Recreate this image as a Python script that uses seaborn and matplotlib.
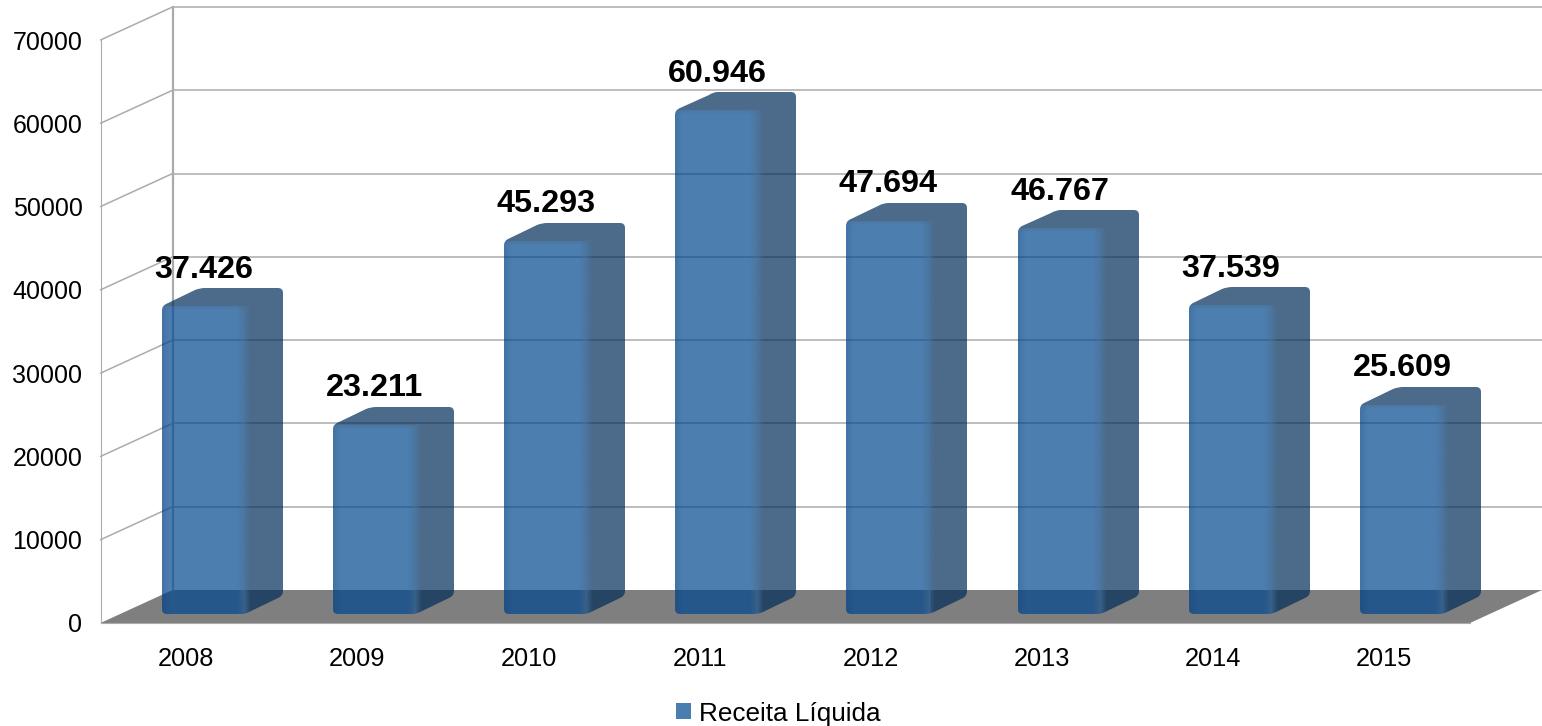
import numpy as np
import matplotlib
matplotlib.use("Agg")
import matplotlib.pyplot as plt
import pandas as pd
import seaborn as sns
from matplotlib.patches import Patch, Polygon
from matplotlib.path import Path

years = ["2008", "2009", "2010", "2011", "2012", "2013", "2014", "2015"]
receita = [37426, 23211, 45293, 60946, 47694, 46767, 37539, 25609]
y_ticks = [0, 10000, 20000, 30000, 40000, 50000, 60000, 70000]
series_name = "Receita Líquida"

GRID = "#ababab"
FLOOR = "#7f7f7f"
FACE = (0, 71 / 255, 143 / 255)
SIDE = (0, 44 / 255, 88 / 255)
FACE_LIT = (74 / 255, 126 / 255, 176 / 255)
SIDE_LIT = (76 / 255, 107 / 255, 138 / 255)
LEGEND_BLUE = "#4a7eb0"
ALPHA = 0.7

W, H = 1542, 726
sns.set_theme(style="white")
plt.rcParams["font.family"] = ["Liberation Sans", "DejaVu Sans"]

fig = plt.figure(figsize=(W / 100, H / 100), dpi=100, facecolor="white")
ax = fig.add_axes([100.5 / W, (H - 623) / H, 1369.5 / W, 583 / H])

# Data units per output pixel along each axis
PX = 8 / 1369.5
PY = 70000 / 583
DEPTH_X, DEPTH_Y = 72 * PX, 33 * PY


def rounded_outline(points, r):
    """Closed path through points with corners rounded by r (in pixels)."""
    pts = np.array(points, float)
    n = len(pts)
    verts, codes = [], []
    for i in range(n):
        p, a, b = pts[i], pts[i - 1], pts[(i + 1) % n]
        ua = (a - p) * [1 / PX, 1 / PY]
        ub = (b - p) * [1 / PX, 1 / PY]
        ua = ua / np.hypot(*ua) * r * [PX, PY]
        ub = ub / np.hypot(*ub) * r * [PX, PY]
        verts.append(p + ua)
        codes.append(Path.MOVETO if i == 0 else Path.LINETO)
        verts += [p, p + ub]
        codes += [Path.CURVE3, Path.CURVE3]
    verts.append(verts[0])
    codes.append(Path.CLOSEPOLY)
    return Path(verts, codes)


def clip_to(artist, path):
    artist.set_clip_box(None)
    artist.set_clip_path(path, ax.transData)


def soft_band(x0, x1, y0, y1, rgb, a0, a1, clip, vertical=False):
    """Alpha ramp laid over a bar face to soften one of its edges."""
    shape = (32, 1, 4) if vertical else (1, 32, 4)
    arr = np.zeros(shape)
    arr[..., :3] = rgb
    ramp = np.linspace(a0, a1, 32)
    arr[..., 3] = ramp[:, None] if vertical else ramp[None, :]
    im = ax.imshow(arr, extent=(x0, x1, y0, y1), aspect="auto", origin="lower",
                   interpolation="bilinear", zorder=5)
    clip_to(im, clip)


# Floor of the 3D box
ax.add_patch(Polygon([(-0.5, 0), (7.5, 0), (7.5 + DEPTH_X, DEPTH_Y), (-0.5 + DEPTH_X, DEPTH_Y)],
                     closed=True, fc=FLOOR, ec="none", zorder=1, clip_on=False))

# Back wall gridlines and the slanted lines on the side wall
for v in y_ticks:
    if v > 0:
        ax.plot([-0.5 + DEPTH_X, 7.5 + DEPTH_X], [v + DEPTH_Y] * 2, color=GRID, lw=1.1,
                zorder=2, clip_on=False)
        ax.plot([-0.5, -0.5 + DEPTH_X], [v, v + DEPTH_Y], color=GRID, lw=1.1,
                zorder=2, clip_on=False)
ax.plot([-0.5 + DEPTH_X] * 2, [DEPTH_Y, 70000 + DEPTH_Y], color=GRID, lw=1.6, zorder=2, clip_on=False)

df = pd.DataFrame({"ano": years, "receita": receita})
sns.barplot(data=df, x="ano", y="receita", color=FACE, saturation=1, width=83 * PX, ax=ax, zorder=4)
bars = [p for p in ax.patches if p.get_zorder() == 4]

# Shift each bar into the box and add its side and top faces
SHIFT_X, SHIFT_Y = 17 * PX, 5 * PY
BAR_BASE = 9 * PY
BAR_DX, BAR_DY = 38 * PX, 18 * PY
for bar, value in zip(bars, receita):
    left = bar.get_x() + SHIFT_X
    right = left + bar.get_width()
    top = value + SHIFT_Y
    base = BAR_BASE
    bar.set_x(left)
    bar.set_y(base)
    bar.set_height(top - base)
    bar.set_facecolor((*FACE, ALPHA))
    bar.set_edgecolor("none")
    bar.set_linewidth(0)
    bar.set_snap(True)
    bar.set_antialiased(False)

    outline = rounded_outline(
        [(left, base), (right, base), (right + BAR_DX, base + BAR_DY),
         (right + BAR_DX, top + BAR_DY), (left + BAR_DX, top + BAR_DY), (left, top)], 5)
    clip_to(bar, outline)

    # Side and top share one shape, snapped to the same pixels as the front face
    shell = Polygon([(left, top), (right, top), (right, base), (right + BAR_DX, base + BAR_DY),
                     (right + BAR_DX, top + BAR_DY), (left + BAR_DX, top + BAR_DY)],
                    closed=True, fc=(*SIDE, ALPHA), ec="none", lw=0, zorder=4,
                    antialiased=False, snap=True)
    ax.add_patch(shell)
    clip_to(shell, outline)

    # Blurred edges between the faces, darker rim on the left
    soft_band(left, left + 8 * PX, base, top, SIDE, 0.14, 0.0, outline)
    soft_band(right - 8 * PX, right, base, top, SIDE_LIT, 0.0, 0.5, outline)
    soft_band(right, right + 6 * PX, base, top, FACE_LIT, 0.45, 0.0, outline)
    soft_band(left, right, top - 4 * PY, top, SIDE_LIT, 0.0, 0.4, outline, vertical=True)

    ax.annotate(f"{value:,}".replace(",", "."),
                xy=(left + bar.get_width() / 2 + 0.5 * PX, top + BAR_DY), xytext=(0, 18.5 * 0.72),
                textcoords="offset points", ha="center", va="center",
                fontsize=23.3, fontweight="bold", color="black", zorder=8, annotation_clip=False)

ax.set_xlim(-0.5, 7.5)
ax.set_ylim(0, 70000)
ax.set_yticks(y_ticks)
ax.set_xlabel("")
ax.set_ylabel("")
ax.tick_params(axis="y", length=0, labelsize=18, pad=13, labelcolor="black")
ax.tick_params(axis="x", length=0, labelsize=18.3, pad=17.5, labelcolor="black")
sns.despine(ax=ax, top=True, right=True)
for name in ("left", "bottom"):
    ax.spines[name].set_color(GRID)
    ax.spines[name].set_linewidth(0.8)
ax.patch.set_alpha(0)

fig.legend(handles=[Patch(facecolor=LEGEND_BLUE, edgecolor="none", label=series_name)],
           loc="center", bbox_to_anchor=(778 / W, (H - 713.5) / H), frameon=False, fontsize=18.8,
           handlelength=0.58, handleheight=0.58, handletextpad=0.3, borderpad=0, labelcolor="black")

fig.savefig("out.png", dpi=100, facecolor="white")
